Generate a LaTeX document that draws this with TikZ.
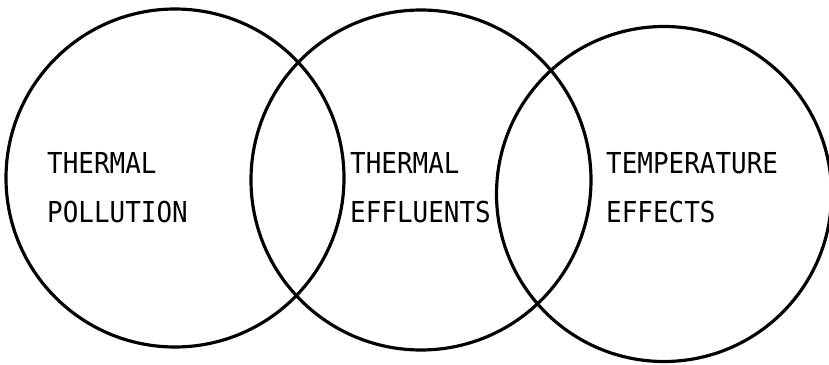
\documentclass[tikz,border=0pt]{standalone}
\usepackage{fontspec}
\newfontfamily\diagfont[FakeStretch=0.9]{DejaVu Sans Mono}
\begin{document}
\begin{tikzpicture}[
  x=0.3mm, y=-0.3mm,
  ring/.style={draw, circle, line width=0.95mm, inner sep=0pt},
  word/.style={anchor=base west, inner sep=0pt,
               font=\diagfont\fontsize{24.6}{30}\selectfont},
]
\useasboundingbox (0,0) rectangle (829,365);
\node[ring, minimum size=101.4mm] (pollution) at (175,178) {};
\node[ring, minimum size=102mm] (effluents) at (421,180) {};
\node[ring, minimum size=100.5mm] (effects) at (664,194) {};
\node[word] (t1a) at (47,174) {THERMAL};
\node[word] (t1b) at (47,222) {POLLUTION};
\node[word] (t2a) at (350,174) {THERMAL};
\node[word] (t2b) at (350,222) {EFFLUENTS};
\node[word] (t3a) at (606,173) {TEMPERATURE};
\node[word] (t3b) at (606,222) {EFFECTS};
\end{tikzpicture}
\end{document}
